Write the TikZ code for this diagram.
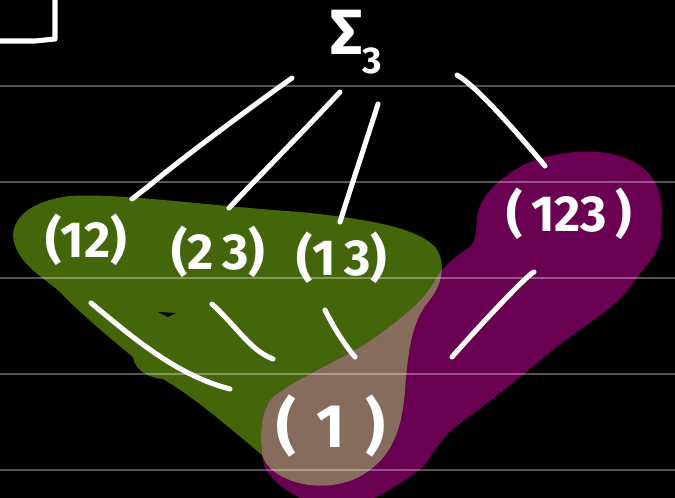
\documentclass[tikz,border=0pt]{standalone}
\usepackage{fontspec}
\setmainfont{Fira Sans}
\definecolor{blobgreen}{RGB}{68,102,11}
\definecolor{blobpurple}{RGB}{106,0,82}
\definecolor{blobbrown}{RGB}{133,108,92}
\tikzset{
  ink/.style={draw=white, line width=3.8pt, line cap=round, line join=round},
  label/.style={text=white, inner sep=0pt, font=\fontsize{38}{38}\selectfont\bfseries},
  rule/.style={draw=white, draw opacity=0.33, line width=1.5pt}
}
\begin{document}
\begin{tikzpicture}[x=0.75pt, y=-0.75pt]
\fill[black] (0,0) rectangle (675,498);
\useasboundingbox (0,0) rectangle (675,498);
% green blob
\def\greenpath{(13,235) .. controls (14,215) and (35,200) .. (70,196)
  .. controls (120,193) and (200,205) .. (300,212)
  .. controls (380,220) and (420,230) .. (436,248)
  .. controls (446,262) and (443,285) .. (428,302)
  .. controls (412,322) and (408,350) .. (405,390)
  .. controls (402,430) and (392,455) .. (367,472)
  .. controls (345,488) and (310,490) .. (285,478)
  .. controls (268,470) and (265,462) .. (262,455)
  .. controls (230,428) and (195,398) .. (163,379)
  .. controls (148,378) and (135,370) .. (133,357)
  .. controls (100,330) and (75,308) .. (60,292)
  .. controls (40,275) and (15,262) .. (13,235) -- cycle}
\def\purplepath{(477,217) .. controls (480,195) and (500,178) .. (523,165)
  .. controls (550,152) and (600,145) .. (630,160)
  .. controls (658,172) and (665,200) .. (661,225)
  .. controls (665,245) and (650,262) .. (635,280)
  .. controls (620,305) and (590,322) .. (563,342)
  .. controls (530,368) and (500,395) .. (463,421)
  .. controls (440,438) and (432,455) .. (425,465)
  .. controls (410,478) and (390,490) .. (375,498)
  -- (300,498)
  .. controls (285,490) and (270,480) .. (264,465)
  .. controls (260,445) and (258,415) .. (272,398)
  .. controls (290,382) and (330,365) .. (367,343)
  .. controls (400,320) and (425,300) .. (435,280)
  .. controls (442,266) and (458,255) .. (470,247)
  .. controls (477,240) and (476,228) .. (477,217) -- cycle}
\fill[blobgreen] \greenpath;
\fill[blobpurple] \purplepath;
\begin{scope}
  \clip \purplepath;
  \fill[blobbrown] \greenpath;
\end{scope}
\fill[black] (158,312) -- (176,313) -- (168,317) -- cycle;
% ruled lines
\foreach \yy in {86,182,278,374,470} { \draw[rule] (0,\yy) -- (675,\yy); }
% corner bracket
\coordinate (b1) at (0,41);
\coordinate (b2) at (55,39);
\coordinate (b3) at (55,0);
\draw[ink] (b1) -- (35,41) -- (b2) -- (b3);
% labels
\node[label, font=\fontsize{48}{48}\selectfont\bfseries] (S3) at (356,42) {Σ\raisebox{-0.3em}{\fontsize{28}{28}\selectfont 3}};
\node[label] (t12) at (86,240) {(12)};
\node[label] (t23) at (218,252) {(2\,3)};
\node[label] (t13) at (342,258) {(1\,3)};
\node[label] (t123) at (569,214) {(\,123\,)};
\node[label, font=\fontsize{46}{46}\selectfont\bfseries] (t1) at (331,426) {(\,\,1\,\,)};
% connector endpoints
\coordinate (a1) at (292,78);  \coordinate (a2) at (132,199);
\coordinate (c1) at (340,92);  \coordinate (c2) at (229,208);
\coordinate (d1) at (378,104); \coordinate (d2) at (340,222);
\coordinate (e1) at (457,75);  \coordinate (e2) at (545,166);
\coordinate (f1) at (91,303);  \coordinate (f2) at (230,389);
\coordinate (g1) at (212,304); \coordinate (g2) at (273,359);
\coordinate (h1) at (325,310); \coordinate (h2) at (355,357);
\coordinate (k1) at (534,272); \coordinate (k2) at (452,357);
\draw[ink] (a1) .. controls (240,115) and (180,160) .. (150,185) -- (a2);
\draw[ink] (c1) .. controls (300,135) and (260,175) .. (c2);
\draw[ink] (d1) .. controls (365,145) and (350,190) .. (d2);
\draw[ink] (e1) .. controls (475,85) and (515,130) .. (e2);
\draw[ink] (f1) .. controls (130,335) and (175,375) .. (f2);
\draw[ink] (g1) .. controls (240,330) and (250,350) .. (g2);
\draw[ink] (h1) .. controls (335,330) and (345,345) .. (h2);
\draw[ink] (k1) .. controls (528,274) and (480,325) .. (k2);
\end{tikzpicture}
\end{document}
